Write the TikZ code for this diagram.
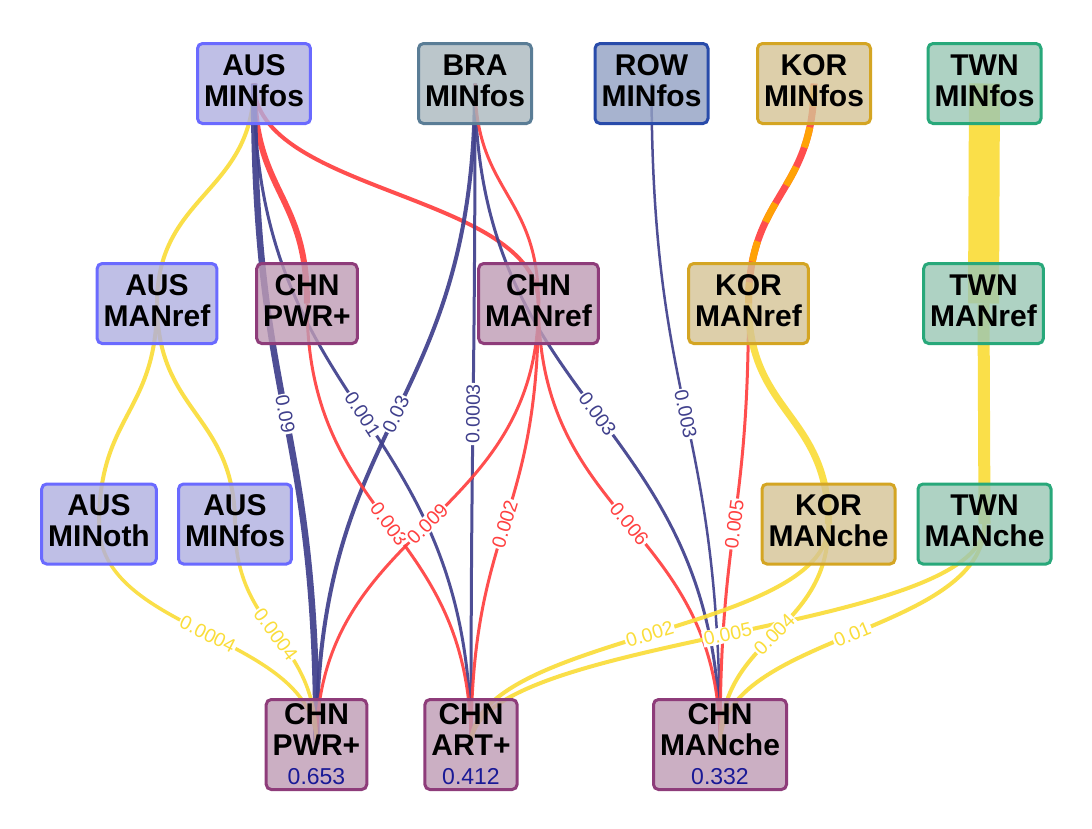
\documentclass[tikz,border=0pt]{standalone}
\usepackage{fontspec}
\setmainfont{Liberation Sans}
\usetikzlibrary{calc}
\definecolor{cnavy}{RGB}{64,64,140}
\definecolor{cred}{RGB}{255,64,64}
\definecolor{cyellow}{RGB}{250,221,58}
\definecolor{corange}{RGB}{255,170,0}
\definecolor{cval}{RGB}{25,25,150}
\definecolor{ausfill}{RGB}{175,175,224}
\definecolor{ausline}{RGB}{106,106,255}
\definecolor{brafill}{RGB}{171,184,191}
\definecolor{braline}{RGB}{90,125,150}
\definecolor{rowfill}{RGB}{146,161,196}
\definecolor{rowline}{RGB}{40,75,170}
\definecolor{korfill}{RGB}{213,196,149}
\definecolor{korline}{RGB}{212,165,35}
\definecolor{twnfill}{RGB}{154,199,181}
\definecolor{twnline}{RGB}{40,168,122}
\definecolor{chnfill}{RGB}{190,156,181}
\definecolor{chnline}{RGB}{142,60,122}
\newcommand\txtdepth{\rule[-6pt]{0pt}{6pt}}
\newcommand\valtxt[1]{{\fontsize{23}{24}\selectfont\mdseries\color{cval}#1}}
\pgfdeclarelayer{back}
\pgfdeclarelayer{edges}
\pgfdeclarelayer{labels}
\pgfsetlayers{back,edges,labels,main}
\tikzset{
  box/.style={rectangle, rounded corners=5pt, line width=3pt, fill opacity=0.8, text opacity=1,
    align=center, inner xsep=6.5pt, inner ysep=0pt, minimum height=80pt,
    font=\fontsize{30}{31}\selectfont\bfseries, text=black},
  fbox/.style={box, minimum height=90pt},
  aus/.style={fill=ausfill, draw=ausline},
  bra/.style={fill=brafill, draw=braline},
  row/.style={fill=rowfill, draw=rowline},
  kor/.style={fill=korfill, draw=korline},
  twn/.style={fill=twnfill, draw=twnline},
  chn/.style={fill=chnfill, draw=chnline},
  link/.style={to path={let \p1=(\tikztostart), \p2=(\tikztotarget),
     \p3=($(\tikztostart)!0.5!(\tikztotarget)$) in
     .. controls (\x1,\y3) and (\x2,\y3) .. (\tikztotarget) \tikztonodes}},
  ln/.style={line cap=butt, draw opacity=0.92},
  lab/.style={pos=0.5, sloped, fill=white, inner sep=1.2pt,
    font=\fontsize{19.5}{20}\selectfont},
}
\begin{document}
\begin{tikzpicture}[x=1pt,y=-1pt]
\useasboundingbox (0,0) rectangle (1092,828);
\begin{pgfonlayer}{back}
\fill[white] (0,0) rectangle (1092,828);
\end{pgfonlayer}

% row 1
\node[box,aus] (ausminfos) at (254,83.5) {AUS\\MINfos\txtdepth};
\node[box,bra] (braminfos) at (475,83.5) {BRA\\MINfos\txtdepth};
\node[box,row] (rowminfos) at (651.5,83.5) {ROW\\MINfos\txtdepth};
\node[box,kor] (korminfos) at (814,83.5) {KOR\\MINfos\txtdepth};
\node[box,twn] (twnminfos) at (984.5,83.5) {TWN\\MINfos\txtdepth};
% row 2
\node[box,aus] (ausmanref) at (157,303.5) {AUS\\MANref\txtdepth};
\node[box,chn] (chnpwrA) at (307,303.5) {CHN\\PWR+\txtdepth};
\node[box,chn] (chnmanref) at (538.5,303.5) {CHN\\MANref\txtdepth};
\node[box,kor] (kormanref) at (748.5,303.5) {KOR\\MANref\txtdepth};
\node[box,twn] (twnmanref) at (983.5,303.5) {TWN\\MANref\txtdepth};
% row 3
\node[box,aus] (ausminoth) at (99,524) {AUS\\MINoth\txtdepth};
\node[box,aus] (ausminfosB) at (235,524) {AUS\\MINfos\txtdepth};
\node[box,kor] (kormanche) at (828.5,524) {KOR\\MANche\txtdepth};
\node[box,twn] (twnmanche) at (984.5,524) {TWN\\MANche\txtdepth};
% row 4
\node[fbox,chn] (chnpwr) at (316.5,744.5) {CHN\\PWR+\\[-2pt]\valtxt{0.653}};
\node[fbox,chn] (chnart) at (471,744.5) {CHN\\ART+\\[-2pt]\valtxt{0.412}};
\node[fbox,chn] (chnmanche) at (720,744.5) {CHN\\MANche\\[-2pt]\valtxt{0.332}};

\begin{pgfonlayer}{edges}
\draw[ln,cyellow,line width=4] (ausminfos.center) to[link] (ausmanref.center);
\draw[ln,cred,line width=6] (ausminfos.center) to[link] (chnpwrA.center);
\draw[ln,cred,line width=4] (ausminfos.center) to[link] (chnmanref.center);
\draw[ln,cnavy,line width=6.5] (ausminfos.center) to[link] (chnpwr.center);
\draw[ln,cnavy,line width=3] (ausminfos.center) to[link] (chnart.center);
\draw[ln,cnavy,line width=4] (braminfos.center) to[link] (chnpwr.center);
\draw[ln,cnavy,line width=3] (braminfos.center) to[link] (chnart.center);
\draw[ln,cnavy,line width=3] (braminfos.center) to[link] (chnmanche.center);
\draw[ln,cred,line width=3] (braminfos.center) to[link] (chnmanref.center);
\draw[ln,cnavy,line width=2.5] (rowminfos.center) to[link] (chnmanche.center);
\draw[ln,cred,line width=7] (korminfos.center) to[link] (kormanref.center);
\draw[ln,corange,line width=7,dash pattern=on 21pt off 21pt,dash phase=40pt] (korminfos.center) to[link] (kormanref.center);
\draw[ln,cyellow,line width=31] (twnminfos.center) to[link] (twnmanref.center);
\draw[ln,cyellow,line width=4] (ausmanref.center) to[link] (ausminoth.center);
\draw[ln,cyellow,line width=4] (ausmanref.center) to[link] (ausminfosB.center);
\draw[ln,cred,line width=3] (chnpwrA.center) to[link] (chnart.center);
\draw[ln,cred,line width=3] (chnmanref.center) to[link] (chnpwr.center);
\draw[ln,cred,line width=3] (chnmanref.center) to[link] (chnart.center);
\draw[ln,cred,line width=3] (chnmanref.center) to[link] (chnmanche.center);
\draw[ln,cred,line width=3] (kormanref.center) to[link] (chnmanche.center);
\draw[ln,cyellow,line width=7] (kormanref.center) to[link] (kormanche.center);
\draw[ln,cyellow,line width=12] (twnmanref.center) to[link] (twnmanche.center);
\draw[ln,cyellow,line width=3.5] (ausminoth.center) to[link] (chnpwr.center);
\draw[ln,cyellow,line width=3.5] (ausminfosB.center) to[link] (chnpwr.center);
\draw[ln,cyellow,line width=4] (twnmanche.center) to[link] (chnart.center);
\draw[ln,cyellow,line width=4] (kormanche.center) to[link] (chnart.center);
\draw[ln,cyellow,line width=4] (kormanche.center) to[link] (chnmanche.center);
\draw[ln,cyellow,line width=4] (twnmanche.center) to[link] (chnmanche.center);
\end{pgfonlayer}

\begin{pgfonlayer}{labels}
\path (ausminfos.center) to[link] node[lab,text=cnavy]{0.09} (chnpwr.center);
\path (ausminfos.center) to[link] node[lab,text=cnavy]{0.001} (chnart.center);
\path (braminfos.center) to[link] node[lab,text=cnavy]{0.03} (chnpwr.center);
\path (braminfos.center) to[link] node[lab,text=cnavy]{0.0003} (chnart.center);
\path (braminfos.center) to[link] node[lab,text=cnavy]{0.003} (chnmanche.center);
\path (rowminfos.center) to[link] node[lab,text=cnavy]{0.003} (chnmanche.center);
\path (chnpwrA.center) to[link] node[lab,text=cred]{0.003} (chnart.center);
\path (chnmanref.center) to[link] node[lab,text=cred]{0.009} (chnpwr.center);
\path (chnmanref.center) to[link] node[lab,text=cred]{0.002} (chnart.center);
\path (chnmanref.center) to[link] node[lab,text=cred]{0.006} (chnmanche.center);
\path (kormanref.center) to[link] node[lab,text=cred]{0.005} (chnmanche.center);
\path (ausminoth.center) to[link] node[lab,text=cyellow]{0.0004} (chnpwr.center);
\path (ausminfosB.center) to[link] node[lab,text=cyellow]{0.0004} (chnpwr.center);
\path (twnmanche.center) to[link] node[lab,text=cyellow]{0.005} (chnart.center);
\path (kormanche.center) to[link] node[lab,text=cyellow]{0.002} (chnart.center);
\path (kormanche.center) to[link] node[lab,text=cyellow]{0.004} (chnmanche.center);
\path (twnmanche.center) to[link] node[lab,text=cyellow]{0.01} (chnmanche.center);
\end{pgfonlayer}
\end{tikzpicture}
\end{document}
